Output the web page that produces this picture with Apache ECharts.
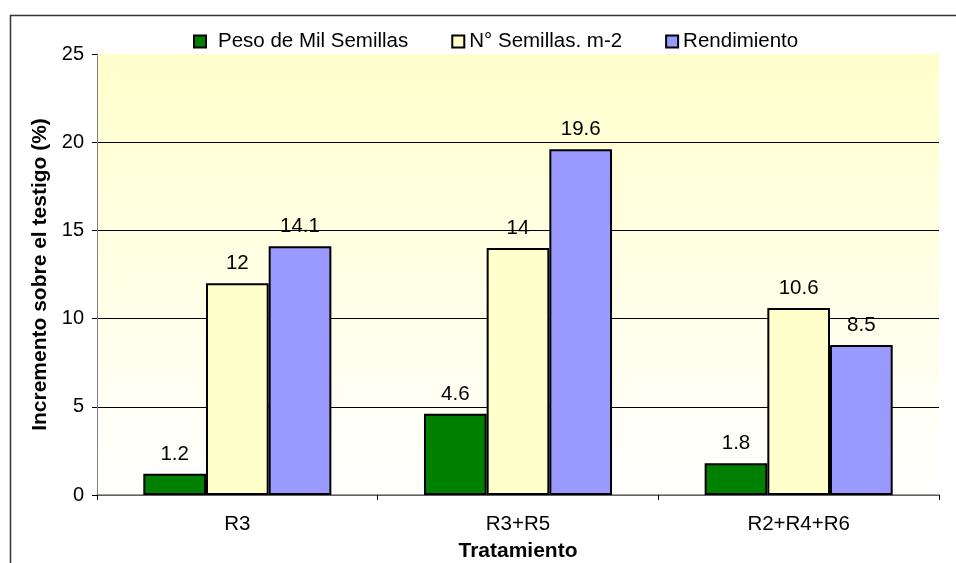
<!DOCTYPE html>
<html>
<head>
<meta charset="utf-8">
<script src="https://cdn.jsdelivr.net/npm/echarts@6/dist/echarts.min.js"></script>
<style>
  html, body { margin: 0; padding: 0; background: #fff; }
  #chart { width: 956px; height: 563px; }
</style>
</head>
<body>
<div id="chart"></div>
<script>
  // datos
  var categorias = ['R3', 'R3+R5', 'R2+R4+R6'];
  var pesoMil = [1.2, 4.6, 1.8];
  var semillasM2 = [12, 14, 10.6];
  var rendimiento = [14.1, 19.6, 8.5];
  var yTicks = [0, 5, 10, 15, 20, 25];

  var font = 'Liberation Sans, Arial, sans-serif';
  var myChart = echarts.init(document.getElementById('chart'));

  function serie(name, data, color) {
    return {
      name: name,
      type: 'bar',
      data: data,
      barGap: '0%',
      barCategoryGap: '33%',
      itemStyle: { color: color, borderColor: '#000', borderWidth: 2 },
      label: {
        show: true,
        position: 'top',
        distance: 9,
        color: '#000',
        fontFamily: font,
        fontSize: 20.5
      }
    };
  }

  myChart.setOption({
    animation: false,
    textStyle: { fontFamily: font },
    graphic: [{
      type: 'rect',
      shape: { x: 10.5, y: 15.5, width: 1000, height: 600 },
      style: { fill: 'none', stroke: '#333', lineWidth: 1.5 },
      silent: true
    }],
    legend: {
      top: 26,
      left: 188,
      itemGap: 43,
      itemWidth: 12,
      itemHeight: 12,
      icon: 'rect',
      textStyle: { color: '#000', fontSize: 20.5, fontFamily: font },
      data: [
        { name: 'Peso de Mil Semillas', textStyle: { padding: [0, 0, 0, 7] } },
        { name: 'N\u00b0 Semillas. m-2', textStyle: { padding: [0, 0, 0, 0] } },
        { name: 'Rendimiento', textStyle: { padding: [0, 0, 0, 0] } }
      ]
    },
    grid: {
      left: 97, right: 17, top: 54, bottom: 68,
      outerBoundsMode: 'none',
      show: true,
      borderWidth: 0,
      backgroundColor: new echarts.graphic.LinearGradient(0, 0, 0, 1, [
        { offset: 0, color: '#FFFFCC' },
        { offset: 1, color: '#FFFFFF' }
      ])
    },
    xAxis: {
      type: 'category',
      data: categorias,
      name: 'Tratamiento',
      nameLocation: 'middle',
      nameGap: 46,
      nameTextStyle: { color: '#000', fontSize: 21, fontWeight: 'bold', fontFamily: font },
      axisLine: { lineStyle: { color: '#808080', width: 1.5 } },
      axisTick: { show: true, length: 5, lineStyle: { color: '#000' } },
      axisLabel: { color: '#000', fontSize: 20.5, margin: 19, fontFamily: font }
    },
    yAxis: {
      type: 'value',
      min: yTicks[0],
      max: yTicks[yTicks.length - 1],
      interval: 5,
      name: 'Incremento sobre el testigo (%)',
      nameLocation: 'middle',
      nameGap: 46,
      nameTextStyle: { color: '#000', fontSize: 21, fontWeight: 'bold', fontFamily: font },
      axisLine: { show: true, lineStyle: { color: '#808080', width: 1 } },
      axisTick: { show: true, length: 5, lineStyle: { color: '#000' } },
      axisLabel: { color: '#000', fontSize: 20, margin: 13, fontFamily: font },
      splitLine: { show: true, showMaxLine: false, lineStyle: { color: '#000', width: 1 } }
    },
    series: [
      serie('Peso de Mil Semillas', pesoMil, '#008000'),
      serie('N\u00b0 Semillas. m-2', semillasM2, '#FFFFCC'),
      serie('Rendimiento', rendimiento, '#9999FF')
    ]
  });
</script>
</body>
</html>
